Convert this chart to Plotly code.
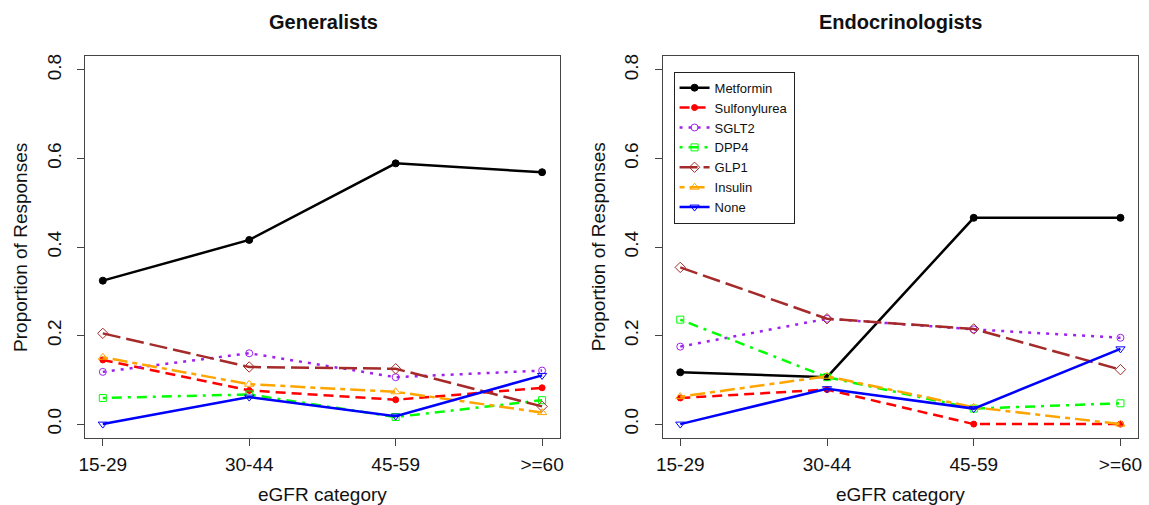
import plotly.graph_objects as go

# ---- data ----
categories = ["15-29", "30-44", "45-59", ">=60"]
series_names = ["Metformin", "Sulfonylurea", "SGLT2", "DPP4", "GLP1", "Insulin", "None"]

gen_metformin = [0.324, 0.416, 0.589, 0.569]
gen_sulfonylurea = [0.145, 0.076, 0.055, 0.082]
gen_sglt2 = [0.118, 0.160, 0.106, 0.121]
gen_dpp4 = [0.059, 0.067, 0.016, 0.054]
gen_glp1 = [0.205, 0.129, 0.125, 0.040]
gen_insulin = [0.151, 0.090, 0.073, 0.026]
gen_none = [0.000, 0.061, 0.018, 0.110]

endo_metformin = [0.117, 0.106, 0.466, 0.466]
endo_sulfonylurea = [0.059, 0.078, 0.000, 0.000]
endo_sglt2 = [0.175, 0.238, 0.214, 0.195]
endo_dpp4 = [0.236, 0.106, 0.035, 0.047]
endo_glp1 = [0.354, 0.238, 0.215, 0.123]
endo_insulin = [0.062, 0.108, 0.038, 0.000]
endo_none = [0.000, 0.080, 0.035, 0.170]

y_ticks = [0.0, 0.2, 0.4, 0.6, 0.8]
y_tick_labels = ["0.0", "0.2", "0.4", "0.6", "0.8"]

# ---- styles ----
colors = ["#000000", "#FF0000", "#A020F0", "#00FF00", "#A52A2A", "#FFA500", "#0000FF"]
dashes = ["solid", "10px,6px", "3px,6px", "3px,6px,10px,6px", "18px,6px", "5px,5px,15px,5px", "solid"]
symbols = ["circle", "circle", "circle-open", "square-open", "diamond-open", "triangle-up-open", "triangle-down-open"]
msizes = [7, 6, 7, 7, 8, 8, 8]

gen_data = [gen_metformin, gen_sulfonylurea, gen_sglt2, gen_dpp4, gen_glp1, gen_insulin, gen_none]
endo_data = [endo_metformin, endo_sulfonylurea, endo_sglt2, endo_dpp4, endo_glp1, endo_insulin, endo_none]

W, H = 1149, 505
FONT = "Arial, Liberation Sans, sans-serif"

fig = go.Figure()

for panel, (data, xa, ya) in enumerate([(gen_data, "x", "y"), (endo_data, "x2", "y2")]):
    for i, name in enumerate(series_names):
        fig.add_trace(go.Scatter(
            x=categories, y=data[i], name=name, mode="lines+markers",
            xaxis=xa, yaxis=ya, showlegend=(panel == 1),
            line=dict(color=colors[i], width=2.5, dash=dashes[i]),
            marker=dict(symbol=symbols[i], size=msizes[i], color=colors[i],
                        line=dict(width=1, color=colors[i])),
        ))

# panel geometry (pixels)
left_dom = [79 / W, 558 / W]
right_dom = [662 / W, 1142 / W]
y_dom = [(H - 438) / H, (H - 54) / H]

axis_common = dict(
    showline=True, mirror=True, linecolor="#444", linewidth=1,
    ticks="outside", ticklen=7, tickcolor="#444", tickwidth=1,
    showgrid=False, zeroline=False,
    tickfont=dict(family=FONT, size=19, color="#111"),
)

xcommon = dict(axis_common, type="category", range=[-0.12, 3.12], ticklabelstandoff=2)
ycommon = dict(axis_common, range=[-0.032, 0.832], tickvals=y_ticks, ticktext=y_tick_labels,
               tickangle=-90, ticklabelstandoff=9)

fig.update_layout(
    width=W, height=H,
    margin=dict(l=0, r=0, t=0, b=0),
    paper_bgcolor="white", plot_bgcolor="white",
    font=dict(family=FONT, color="#111"),
    xaxis=dict(xcommon, domain=left_dom, anchor="y"),
    yaxis=dict(ycommon, domain=y_dom, anchor="x"),
    xaxis2=dict(xcommon, domain=right_dom, anchor="y2"),
    yaxis2=dict(ycommon, domain=y_dom, anchor="x2"),
    legend=dict(
        x=673 / W, y=(H - 70) / H, xanchor="left", yanchor="top",
        bordercolor="#222", borderwidth=1, bgcolor="white",
        font=dict(family=FONT, size=13, color="#111"),
        itemwidth=30, tracegroupgap=0,
    ),
    showlegend=True,
)

annos = [
    dict(text="<b>Generalists</b>", x=320 / W, y=(H - 20) / H, font=dict(size=20)),
    dict(text="<b>Endocrinologists</b>", x=902 / W, y=(H - 20) / H, font=dict(size=20)),
    dict(text="eGFR category", x=318.5 / W, y=(H - 494) / H, font=dict(size=19)),
    dict(text="eGFR category", x=902 / W, y=(H - 494) / H, font=dict(size=19)),
    dict(text="Proportion of Responses", x=13 / W, y=(H - 246) / H, textangle=-90, font=dict(size=19)),
    dict(text="Proportion of Responses", x=597 / W, y=(H - 246) / H, textangle=-90, font=dict(size=19)),
]
for a in annos:
    a.update(xref="paper", yref="paper", showarrow=False, xanchor="center", yanchor="middle")
    a["font"].update(family=FONT, color="#111")
fig.update_layout(annotations=annos)

fig.write_html("out.html", config={"displayModeBar": False},
               post_script="document.body.style.margin='0';document.body.style.overflow='hidden';")
